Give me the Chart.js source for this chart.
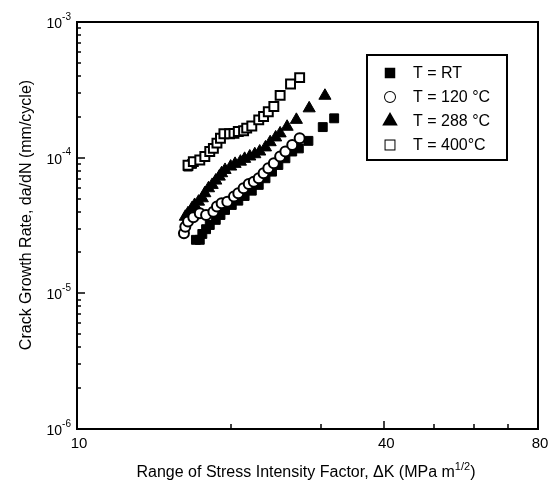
<!DOCTYPE html>
<html>
<head>
<meta charset="utf-8">
<script src="https://cdn.jsdelivr.net/npm/chart.js@4/dist/chart.umd.min.js"></script>
<style>
  html, body { margin: 0; padding: 0; background: #fff; }
  #wrap { width: 548px; height: 484px; }
</style>
</head>
<body>
<div id="wrap"><canvas id="chart" width="548" height="484"></canvas></div>
<script>
// values (Delta K in MPa m^1/2, da/dN in mm/cycle)
const kRT = [16.5, 16.8, 17.1, 17.4, 17.6, 17.9, 18.2, 18.7, 19.1, 19.5, 20.1, 20.7, 21.3, 22.0, 22.7, 23.4, 24.1, 24.8, 25.6, 26.4, 27.2, 28.4, 30.3, 31.9];
const rateRT = [8.6e-5, 9.0e-5, 2.48e-5, 2.48e-5, 2.74e-5, 2.97e-5, 3.19e-5, 3.48e-5, 3.78e-5, 4.12e-5, 4.48e-5, 4.82e-5, 5.22e-5, 5.71e-5, 6.30e-5, 7.05e-5, 7.89e-5, 8.83e-5, 9.9e-5, 1.11e-4, 1.17e-4, 1.33e-4, 1.68e-4, 1.95e-4];

const k120 = [16.2, 16.3, 16.5, 16.9, 17.4, 17.9, 18.5, 18.8, 19.2, 19.7, 20.3, 20.7, 21.2, 21.7, 22.2, 22.7, 23.2, 23.7, 24.3, 25.0, 25.6, 26.4, 27.3];
const rate120 = [2.77e-5, 3.10e-5, 3.38e-5, 3.64e-5, 3.89e-5, 3.78e-5, 4.00e-5, 4.36e-5, 4.61e-5, 4.74e-5, 5.17e-5, 5.47e-5, 5.95e-5, 6.4e-5, 6.65e-5, 7.05e-5, 7.68e-5, 8.35e-5, 9.1e-5, 1.02e-4, 1.11e-4, 1.24e-4, 1.39e-4];

const k288 = [16.3, 16.5, 16.8, 17.0, 17.3, 17.6, 17.8, 18.1, 18.4, 18.7, 19.0, 19.2, 19.5, 20.0, 20.4, 20.9, 21.3, 21.8, 22.3, 22.8, 23.4, 23.9, 24.5, 25.0, 25.8, 26.9, 28.5, 30.6];
const rate288 = [3.67e-5, 3.89e-5, 4.24e-5, 4.48e-5, 4.74e-5, 5.02e-5, 5.47e-5, 5.95e-5, 6.30e-5, 6.78e-5, 7.25e-5, 7.68e-5, 8.12e-5, 8.6e-5, 9.0e-5, 9.35e-5, 9.8e-5, 1.02e-4, 1.06e-4, 1.11e-4, 1.19e-4, 1.30e-4, 1.41e-4, 1.51e-4, 1.69e-4, 1.90e-4, 2.31e-4, 2.86e-4];

const k400 = [16.5, 16.9, 17.4, 17.8, 18.2, 18.5, 18.8, 19.1, 19.4, 19.9, 20.3, 20.7, 21.2, 21.5, 22.0, 22.7, 23.2, 23.7, 24.3, 25.0, 26.2, 27.3];
const rate400 = [8.8e-5, 9.35e-5, 9.6e-5, 1.02e-4, 1.11e-4, 1.17e-4, 1.28e-4, 1.39e-4, 1.50e-4, 1.50e-4, 1.51e-4, 1.56e-4, 1.58e-4, 1.65e-4, 1.71e-4, 1.90e-4, 2.01e-4, 2.18e-4, 2.38e-4, 2.88e-4, 3.49e-4, 3.89e-4];

const seriesNames = ['T = RT', 'T = 120 \u00B0C', 'T = 288 \u00B0C', 'T = 400\u00B0C'];
const xTickLabels = [10, 40, 80];
const xMinorTicks = [20, 30, 40, 50, 60, 70];
const yDecades = [-6, -5, -4, -3];

const FONT = '"Liberation Sans", Arial, sans-serif';

function pts(xs, ys) {
    return xs.map((x, i) => ({ x: x, y: ys[i] }));
}

// axes, ticks, labels and the inset legend, drawn by hand to match the paper figure
const framePlugin = {
    id: 'frame',
    afterDraw(chart) {
        const ctx = chart.ctx;
        const a = chart.chartArea;
        const xs = chart.scales.x;
        const ys = chart.scales.y;
        ctx.save();
        ctx.strokeStyle = '#000';
        ctx.fillStyle = '#000';

        // box
        ctx.lineWidth = 2;
        ctx.strokeRect(a.left, a.top, a.right - a.left, a.bottom - a.top);

        // x ticks (inward)
        ctx.lineWidth = 1.5;
        xMinorTicks.forEach(v => {
            const px = Math.round(xs.getPixelForValue(v));
            const len = v === 40 ? 8 : 5;
            ctx.beginPath();
            ctx.moveTo(px, a.bottom);
            ctx.lineTo(px, a.bottom - len);
            ctx.stroke();
        });

        // y ticks (inward, with minors)
        for (let d = -6; d < -3; d++) {
            for (let m = 1; m < 10; m++) {
                const py = Math.round(ys.getPixelForValue(m * Math.pow(10, d)));
                const len = m === 1 ? 8 : 4;
                ctx.beginPath();
                ctx.moveTo(a.left, py);
                ctx.lineTo(a.left + len, py);
                ctx.stroke();
            }
        }

        // x tick labels
        ctx.font = '15px ' + FONT;
        ctx.textAlign = 'center';
        ctx.textBaseline = 'middle';
        xTickLabels.forEach(v => {
            ctx.fillText(String(v), xs.getPixelForValue(v) + 2, a.bottom + 15);
        });

        // y tick labels: 10 with superscript exponent
        yDecades.forEach(d => {
            const py = ys.getPixelForValue(Math.pow(10, d));
            const exp = String(d);
            ctx.font = '10px ' + FONT;
            const ew = ctx.measureText(exp).width;
            ctx.font = '14px ' + FONT;
            const bw = ctx.measureText('10').width;
            const right = a.left - 6;
            ctx.textAlign = 'left';
            ctx.textBaseline = 'middle';
            ctx.fillText('10', right - ew - bw, py + 2);
            ctx.font = '10px ' + FONT;
            ctx.fillText(exp, right - ew, py - 5);
        });

        // x title with superscript 1/2
        const base = 'Range of Stress Intensity Factor, \u0394K (MPa m';
        ctx.font = '16px ' + FONT;
        const w1 = ctx.measureText(base).width;
        ctx.font = '11px ' + FONT;
        const w2 = ctx.measureText('1/2').width;
        ctx.font = '16px ' + FONT;
        const w3 = ctx.measureText(')').width;
        const tx = 306 - (w1 + w2 + w3) / 2;
        const ty = 473;
        ctx.textAlign = 'left';
        ctx.fillText(base, tx, ty);
        ctx.font = '11px ' + FONT;
        ctx.fillText('1/2', tx + w1, ty - 6);
        ctx.font = '16px ' + FONT;
        ctx.fillText(')', tx + w1 + w2, ty);

        // y title
        ctx.save();
        ctx.translate(27, 215);
        ctx.rotate(-Math.PI / 2);
        ctx.textAlign = 'center';
        ctx.fillText('Crack Growth Rate, da/dN (mm/cycle)', 0, 0);
        ctx.restore();

        // legend box
        const lx = 367, ly = 55, lw = 140, lh = 105;
        ctx.lineWidth = 2;
        ctx.strokeRect(lx, ly, lw, lh);
        ctx.font = '16px ' + FONT;
        ctx.textAlign = 'left';
        ctx.textBaseline = 'middle';
        chart.data.datasets.forEach((ds, i) => {
            const cy = ly + 18 + i * 24;
            Chart.helpers.drawPoint(ctx, {
                pointStyle: ds.pointStyle,
                radius: ds.legendRadius,
                borderWidth: ds.borderWidth
            }, lx + 23, cy);
            ctx.fillStyle = ds.backgroundColor;
            ctx.strokeStyle = '#000';
            ctx.fill();
            ctx.fillStyle = '#000';
            ctx.fillText(ds.label, lx + 46, cy + 1);
        });
        ctx.restore();
    }
};

new Chart(document.getElementById('chart'), {
    type: 'scatter',
    data: {
        datasets: [
            {
                label: seriesNames[0],
                data: pts(kRT, rateRT),
                pointStyle: 'rect',
                pointRadius: 6.3,
                legendRadius: 6,
                backgroundColor: '#000',
                borderColor: '#000',
                borderWidth: 1,
                order: 4
            },
            {
                label: seriesNames[1],
                data: pts(k120, rate120),
                pointStyle: 'circle',
                pointRadius: 5,
                legendRadius: 5,
                backgroundColor: '#fff',
                borderColor: '#000',
                borderWidth: 2,
                order: 1
            },
            {
                label: seriesNames[2],
                data: pts(k288, rate288),
                pointStyle: 'triangle',
                pointRadius: 7,
                legendRadius: 7,
                backgroundColor: '#000',
                borderColor: '#000',
                borderWidth: 1,
                order: 3
            },
            {
                label: seriesNames[3],
                data: pts(k400, rate400),
                pointStyle: 'rect',
                pointRadius: 6.3,
                legendRadius: 6.3,
                backgroundColor: '#fff',
                borderColor: '#000',
                borderWidth: 2,
                order: 2
            }
        ]
    },
    options: {
        responsive: false,
        animation: false,
        events: [],
        layout: { padding: { left: 0, top: 22, right: 10, bottom: 0 } },
        plugins: {
            legend: { display: false },
            tooltip: { enabled: false }
        },
        scales: {
            x: {
                type: 'logarithmic',
                min: 10,
                max: 80,
                grid: { display: false },
                border: { display: false },
                ticks: { display: false },
                afterFit: s => { s.height = 55; }
            },
            y: {
                type: 'logarithmic',
                min: 1e-6,
                max: 1e-3,
                grid: { display: false },
                border: { display: false },
                ticks: { display: false },
                afterFit: s => { s.width = 77; }
            }
        }
    },
    plugins: [framePlugin]
});
</script>
</body>
</html>
